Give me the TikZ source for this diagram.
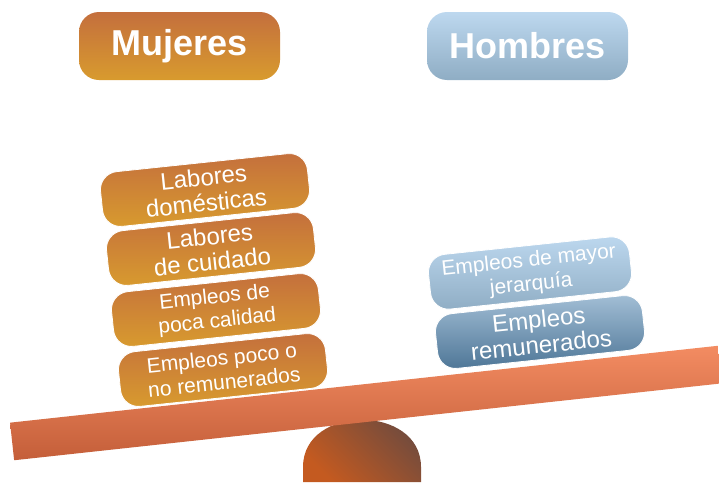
\documentclass[tikz,border=0pt]{standalone}
\usepackage{fontspec}
\setmainfont{Liberation Sans}
\definecolor{mtop}{HTML}{C46F3D}
\definecolor{mbot}{HTML}{D89B2E}
\definecolor{htop}{HTML}{BDD8EF}
\definecolor{hbot}{HTML}{8FADC4}
\definecolor{rtop}{HTML}{A3BFD6}
\definecolor{rbot}{HTML}{4D7596}
\definecolor{beamtop}{HTML}{F38C62}
\definecolor{beammid}{HTML}{EF7F56}
\definecolor{beambot}{HTML}{C45E39}
\definecolor{basetop}{HTML}{6B4A40}
\definecolor{basebot}{HTML}{C45A20}
\begin{document}
\begin{tikzpicture}[x=1pt,y=-1pt,
    header/.style={rounded corners=20pt, minimum width=201pt, minimum height=68pt,
      text=white, font=\fontsize{36}{40}\selectfont\bfseries},
    block/.style={rounded corners=18pt, draw=white, line width=0.8pt, text=white,
      align=center, minimum width=208pt, minimum height=55pt, inner sep=1pt, rotate=6},
    mblock/.style={block, top color=mtop, bottom color=mbot},
    big/.style={font=\fontsize{24}{25.5}\selectfont},
    small/.style={font=\fontsize{21}{24}\selectfont}]
    \useasboundingbox (0,0) rectangle (719,482);

    \node (mujeres) [header, top color=mtop, bottom color=mbot] at (179.5,46) {Mujeres};
    \node (hombres) [header, top color=htop, bottom color=hbot] at (527.5,46) {Hombres};

    \node (domesticas) [mblock, big] at (205,190) {Labores\\domésticas};
    \node (cuidado) [mblock, big] at (211,249) {Labores\\de cuidado};
    \node (calidad) [mblock, small] at (216,310) {Empleos de\\poca calidad};
    \node (noremun) [mblock, small] at (223,370) {Empleos poco o\\no remunerados};

    \node (jerarquia) [block, small, minimum width=202pt, top color=htop, bottom color=hbot]
      at (530,273) {Empleos de mayor\\jerarquía};
    \node (remun) [block, big, top color=rtop, bottom color=rbot]
      at (540,332) {Empleos\\remunerados};

    \shade[top color=basetop, bottom color=basebot, shading angle=-45]
      (303,482) -- (303,467) .. controls (303,404) and (421,404) .. (421,467) -- (421,482) -- cycle;

    \node (beam) [rotate=6.2, minimum width=712pt, minimum height=37.8pt, inner sep=0pt,
      top color=beamtop, middle color=beammid, bottom color=beambot] at (366,403) {};
\end{tikzpicture}
\end{document}
